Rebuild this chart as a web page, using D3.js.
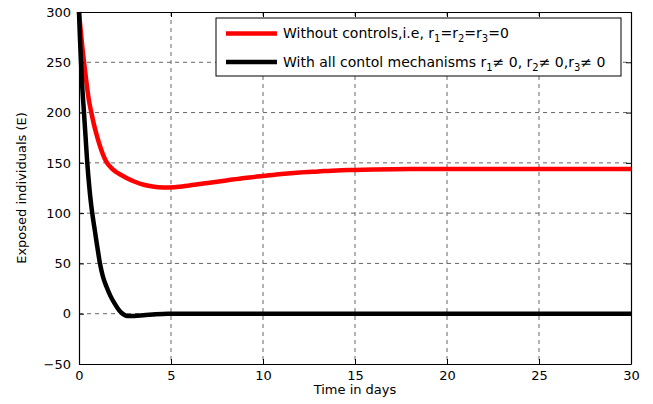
<!DOCTYPE html>
<html>
<head>
<meta charset="utf-8">
<script src="https://cdn.jsdelivr.net/npm/d3@7"></script>
<style>
  body { margin: 0; background: #fff; }
  svg text { font-family: "DejaVu Sans", Arial, sans-serif; }
</style>
</head>
<body>
<div id="wrapper"></div>
<script>
// data
const days = [0, 0.1, 0.2, 0.3, 0.42, 0.54, 0.67, 0.8, 0.94, 1.1, 1.3, 1.49, 1.75, 2.1, 2.48, 3, 3.57, 4, 4.57, 5.2, 6, 7, 8, 9, 10, 11, 12, 13, 14, 15, 16, 18, 20, 25, 30];
const noControl = [300, 280, 262, 246, 228, 212, 200, 189, 179, 169, 158.5, 151, 145, 140, 136, 131.5, 128, 126.5, 125.6, 125.8, 127.5, 130, 132.5, 135, 137, 139, 140.5, 141.5, 142.5, 143, 143.5, 144, 144, 144, 144];

const daysCtrl = [0, 0.05, 0.11, 0.17, 0.27, 0.36, 0.45, 0.55, 0.65, 0.75, 0.85, 0.94, 1.05, 1.15, 1.3, 1.49, 1.7, 1.94, 2.2, 2.45, 2.66, 3, 3.5, 4, 4.84, 10, 20, 30];
const allControl = [300, 275, 250, 228, 200, 175, 150, 128, 110, 96, 84, 73, 60, 49, 37, 27, 18, 10, 3, -1, -2.3, -2.2, -1.5, -0.8, 0, 0, 0, 0];

const xTicks = [0, 5, 10, 15, 20, 25, 30];
const yTicks = [-50, 0, 50, 100, 150, 200, 250, 300];

const series = [
  { x: days, y: noControl, color: '#ff0000' },
  { x: daysCtrl, y: allControl, color: '#000000' },
];

const dimensions = {
  width: 653,
  height: 404,
  margin: { top: 12, right: 22, bottom: 40, left: 79 },
};
dimensions.boundedWidth = dimensions.width - dimensions.margin.left - dimensions.margin.right;
dimensions.boundedHeight = dimensions.height - dimensions.margin.top - dimensions.margin.bottom;

const wrapper = d3.select('#wrapper')
  .append('svg')
  .attr('width', dimensions.width)
  .attr('height', dimensions.height);

const bounds = wrapper.append('g')
  .attr('transform', `translate(${dimensions.margin.left}, ${dimensions.margin.top})`);

const xScale = d3.scaleLinear().domain([0, 30]).range([0, dimensions.boundedWidth]);
const yScale = d3.scaleLinear().domain([-50, 300]).range([dimensions.boundedHeight, 0]);

// grid
bounds.append('g')
  .selectAll('line')
  .data(xTicks.slice(1, -1))
  .join('line')
  .attr('x1', d => xScale(d)).attr('x2', d => xScale(d))
  .attr('y1', 0).attr('y2', dimensions.boundedHeight)
  .attr('stroke', '#666').attr('stroke-dasharray', '4,4');
bounds.append('g')
  .selectAll('line')
  .data(yTicks.slice(1, -1))
  .join('line')
  .attr('y1', d => yScale(d)).attr('y2', d => yScale(d))
  .attr('x1', 0).attr('x2', dimensions.boundedWidth)
  .attr('stroke', '#666').attr('stroke-dasharray', '4,4');

// lines
series.forEach(s => {
  const pts = s.x.map((t, i) => [t, s.y[i]]);
  bounds.append('path')
    .attr('d', d3.line()
      .x(d => xScale(d[0]))
      .y(d => yScale(d[1]))
      .curve(d3.curveMonotoneX)(pts))
    .attr('fill', 'none')
    .attr('stroke', s.color)
    .attr('stroke-width', 4.5)
    .attr('stroke-linejoin', 'round');
});

// axes (inward ticks, box)
const xAxis = bounds.append('g')
  .attr('transform', `translate(0, ${dimensions.boundedHeight})`)
  .call(d3.axisBottom(xScale).tickValues(xTicks).tickSizeInner(-5).tickSizeOuter(0).tickPadding(7));
const xTop = bounds.append('g')
  .call(d3.axisTop(xScale).tickValues(xTicks).tickSizeInner(-5).tickSizeOuter(0).tickFormat(''));
const yAxis = bounds.append('g')
  .call(d3.axisLeft(yScale).tickValues(yTicks).tickSizeInner(-5).tickSizeOuter(0).tickPadding(8));
const yRight = bounds.append('g')
  .attr('transform', `translate(${dimensions.boundedWidth}, 0)`)
  .call(d3.axisRight(yScale).tickValues(yTicks).tickSizeInner(-5).tickSizeOuter(0).tickFormat(''));

[xAxis, xTop, yAxis, yRight].forEach(a => {
  a.select('.domain').attr('stroke', '#000').attr('stroke-width', 1.2);
  a.selectAll('.tick line').attr('stroke', '#000');
  a.selectAll('.tick text').attr('font-size', 13).attr('fill', '#000')
    .style('font-family', '"DejaVu Sans", Arial, sans-serif');
});

bounds.append('text')
  .attr('x', dimensions.boundedWidth / 2)
  .attr('y', dimensions.boundedHeight + 30)
  .attr('text-anchor', 'middle')
  .attr('font-size', 13)
  .text('Time in days');

bounds.append('text')
  .attr('transform', `translate(-53, ${dimensions.boundedHeight / 2}) rotate(-90)`)
  .attr('text-anchor', 'middle')
  .attr('font-size', 13)
  .text('Exposed individuals (E)');

// legend
const legend = wrapper.append('g').attr('transform', 'translate(216, 18)');
legend.append('rect')
  .attr('width', 405).attr('height', 58)
  .attr('fill', '#fff').attr('stroke', '#000');

const legendItems = [
  { color: '#ff0000', parts: [['Without controls,i.e, r'], ['1', 1], ['=r'], ['2', 1], ['=r'], ['3', 1], ['=0']] },
  { color: '#000000', parts: [['With all contol mechanisms r'], ['1', 1], ['\u2260 0, r'], ['2', 1], ['\u2260 0,r'], ['3', 1], ['\u2260 0']] },
];
legendItems.forEach((item, i) => {
  const y = 15.5 + i * 28.5;
  legend.append('line')
    .attr('x1', 10).attr('x2', 61).attr('y1', y).attr('y2', y)
    .attr('stroke', item.color).attr('stroke-width', 4.5);
  const text = legend.append('text')
    .attr('x', 67).attr('y', y + 4.5).attr('font-size', 14);
  let sub = false;
  item.parts.forEach(p => {
    const isSub = !!p[1];
    text.append('tspan')
      .attr('font-size', isSub ? 10 : 14)
      .attr('dy', isSub === sub ? 0 : (isSub ? 4 : -4))
      .text(p[0]);
    sub = isSub;
  });
});
</script>
</body>
</html>
